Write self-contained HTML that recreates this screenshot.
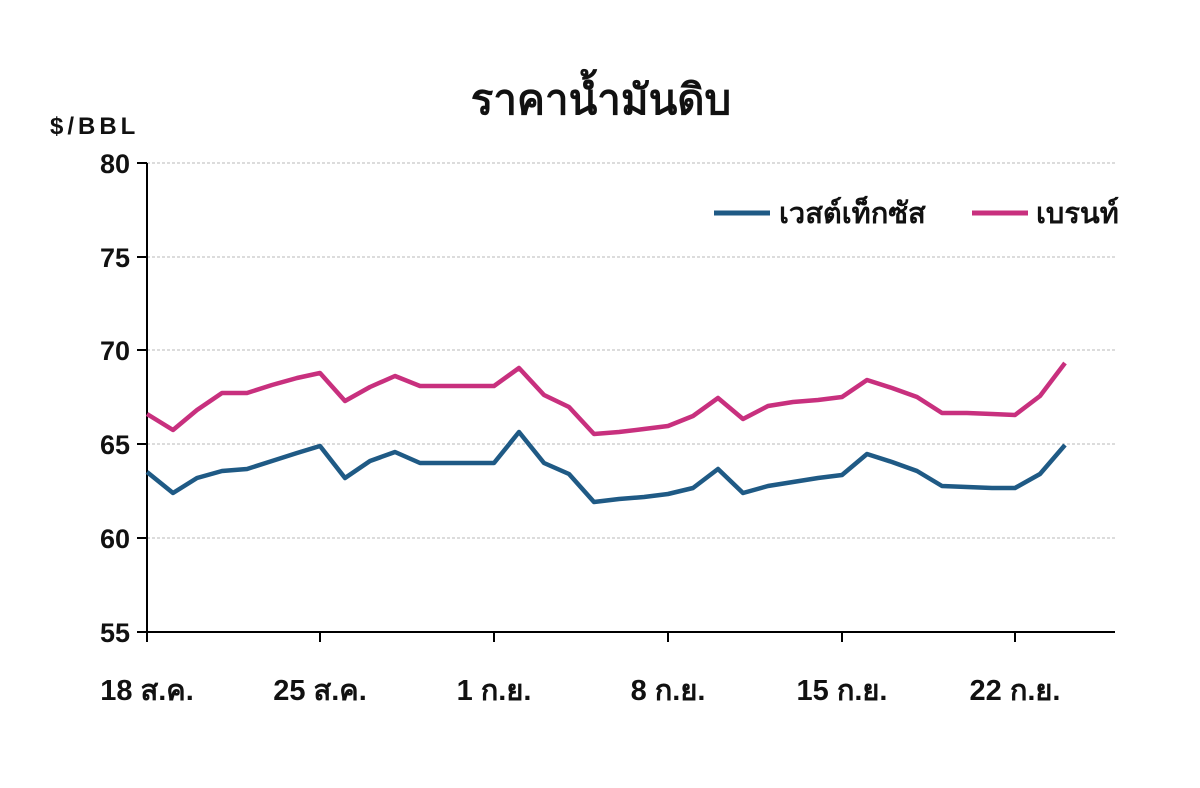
<!DOCTYPE html>
<html><head><meta charset="utf-8"><style>
body{margin:0;background:#fff;}
svg text{font-family:"Liberation Sans","Noto Sans CJK SC",sans-serif;font-weight:bold;fill:#111;}
</style></head><body>
<svg width="1200" height="783" viewBox="0 0 1200 783" xmlns="http://www.w3.org/2000/svg">
<rect width="1200" height="783" fill="#fff"/>
<text x="601" y="114" font-size="42" text-anchor="middle">ราคาน้ำมันดิบ</text>
<text x="50" y="134" font-size="24" letter-spacing="4">$/BBL</text>
<g stroke="#c8c8c8" stroke-width="1.2" stroke-dasharray="3,2">
<line x1="147" y1="163" x2="1115" y2="163"/>
<line x1="147" y1="257" x2="1115" y2="257"/>
<line x1="147" y1="350" x2="1115" y2="350"/>
<line x1="147" y1="444" x2="1115" y2="444"/>
<line x1="147" y1="538" x2="1115" y2="538"/>
</g>
<g stroke="#000" stroke-width="2">
<line x1="147" y1="163" x2="147" y2="632"/>
<line x1="147" y1="632" x2="1115" y2="632"/>
<line x1="137" y1="163" x2="147" y2="163"/><line x1="137" y1="257" x2="147" y2="257"/>
<line x1="137" y1="350" x2="147" y2="350"/><line x1="137" y1="444" x2="147" y2="444"/>
<line x1="137" y1="538" x2="147" y2="538"/><line x1="137" y1="632" x2="147" y2="632"/>
<line x1="147" y1="632" x2="147" y2="642"/><line x1="320" y1="632" x2="320" y2="642"/>
<line x1="494" y1="632" x2="494" y2="642"/><line x1="668" y1="632" x2="668" y2="642"/>
<line x1="842" y1="632" x2="842" y2="642"/><line x1="1015" y1="632" x2="1015" y2="642"/>
</g>
<g font-size="27" text-anchor="end">
<text x="130" y="173">80</text><text x="130" y="267">75</text><text x="130" y="360">70</text>
<text x="130" y="454">65</text><text x="130" y="548">60</text><text x="130" y="642">55</text>
</g>
<g font-size="29" text-anchor="middle">
<text x="147" y="700">18 ส.ค.</text><text x="320" y="700">25 ส.ค.</text><text x="494" y="700">1 ก.ย.</text>
<text x="668" y="700">8 ก.ย.</text><text x="842" y="700">15 ก.ย.</text><text x="1015" y="700">22 ก.ย.</text>
</g>
<line x1="714" y1="213" x2="770" y2="213" stroke="#1f5a85" stroke-width="5"/>
<text x="779" y="223" font-size="29">เวสต์เท็กซัส</text>
<line x1="972" y1="213" x2="1028" y2="213" stroke="#c8307e" stroke-width="5"/>
<text x="1036" y="223" font-size="29">เบรนท์</text>
<polyline fill="none" stroke="#1f5a85" stroke-width="4.5" stroke-linejoin="round" points="147,472 173,493 197,478 222,471 247,469 272,461 297,453 320,446 345,478 370,461 395,452 420,463 445,463 470,463 494,463 519,432 544,463 569,474 594,502 619,499 644,497 668,494 693,488 718,469 743,493 768,486 793,482 818,478 842,475 867,454 892,462 917,471 942,486 967,487 992,488 1015,488 1040,474 1065,445"/>
<polyline fill="none" stroke="#c8307e" stroke-width="4.5" stroke-linejoin="round" points="147,414 173,430 197,410 222,393 247,393 272,385 297,378 320,373 345,401 370,387 395,376 420,386 445,386 470,386 494,386 519,368 544,395 569,407 594,434 619,432 644,429 668,426 693,416 718,398 743,419 768,406 793,402 818,400 842,397 867,380 892,388 917,397 942,413 967,413 992,414 1015,415 1040,396 1065,363"/>
</svg>
</body></html>
